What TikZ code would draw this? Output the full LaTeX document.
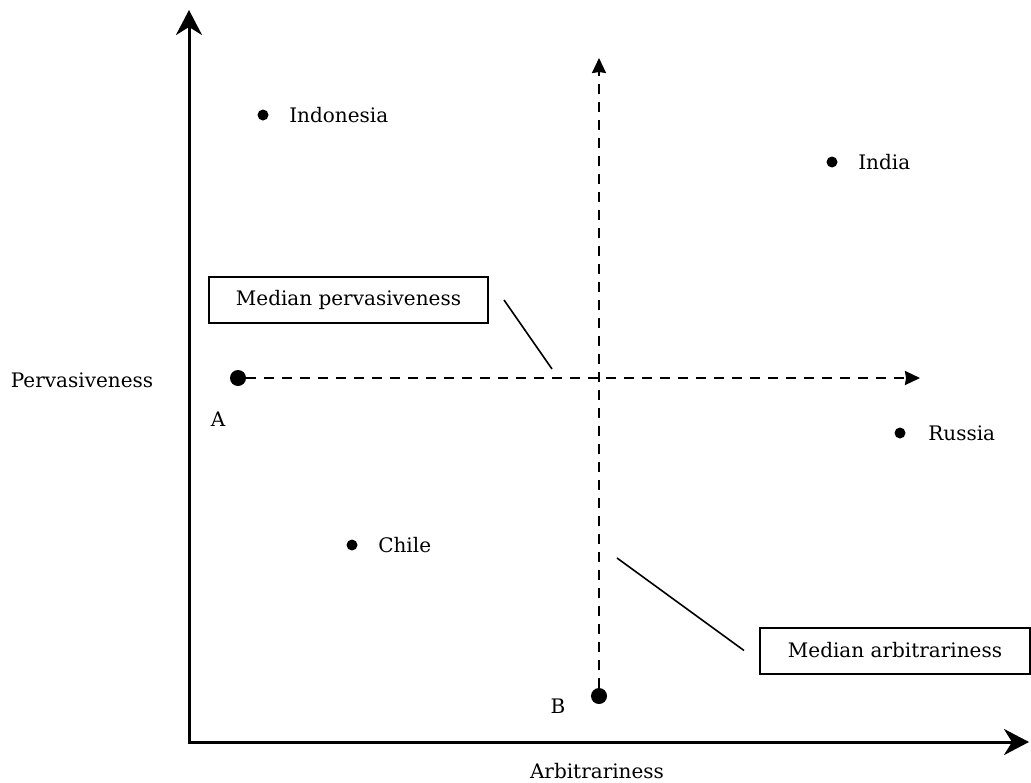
\documentclass[tikz,border=0pt]{standalone}
\usepackage{fontspec}
\setmainfont{DejaVu Serif}
\usetikzlibrary{arrows.meta,positioning}

\begin{document}
\begin{tikzpicture}[x=0.5pt,y=-0.5pt,
  font=\fontsize{10}{12}\selectfont,
  dot/.style={circle,fill=black,inner sep=0pt,minimum size=5.5pt},
  bigdot/.style={circle,fill=black,inner sep=0pt,minimum size=8pt},
  axis/.style={line width=1.5pt,
    {Stealth[length=12.5pt,width=13pt,inset=4pt]}-{Stealth[length=12.5pt,width=13pt,inset=4pt]}},
  median/.style={line width=1pt,dash pattern=on 5pt off 4pt,
    -{Stealth[length=7.5pt,width=7pt,inset=0.5pt]}},
  medbox/.style={draw,line width=1pt,inner sep=0pt,minimum height=23pt},
  leader/.style={line width=0.8pt},
  lbl/.style={inner sep=0pt}]
\useasboundingbox (0,0) rectangle (1031,782);

% axes
\coordinate (O) at (189,742);
\coordinate (ytip) at (189,10);
\coordinate (xtip) at (1029,742);
\draw[axis] (ytip) -- (O) -- (xtip);
\node[lbl] (ylbl) at (82,380) {Pervasiveness};
\node[lbl] (xlbl) at (597,771) {Arbitrariness};

% countries
\node[dot] (indonesia) at (263,115) {};
\node[dot] (india) at (832,162) {};
\node[dot] (russia) at (900,433) {};
\node[dot] (chile) at (352,545) {};
\node[lbl,right=10pt of indonesia] (indonesialbl) {Indonesia};
\node[lbl,right=10pt of india] (indialbl) {India};
\node[lbl,right=11pt of russia] (russialbl) {Russia};
\node[lbl,right=10pt of chile] (chilelbl) {Chile};

% medians
\node[bigdot] (A) at (238,378) {};
\node[bigdot] (B) at (599,696) {};
\node[lbl] (Albl) at (218,419) {A};
\node[lbl] (Blbl) at (558,706) {B};
\coordinate (medxend) at (920,378);
\coordinate (medyend) at (599,58);
\draw[median] (A) -- (medxend);
\draw[median] (B) -- (medyend);

\node[medbox,minimum width=139.5pt] (pvbox) at (348.5,300) {Median pervasiveness};
\node[medbox,minimum width=135pt] (arbox) at (895,650.5) {Median arbitrariness};
\coordinate[right=7.5pt of pvbox.east] (pvstart);
\coordinate (pvend) at (552,369);
\coordinate[left=7.5pt of arbox.west] (arstart);
\coordinate (arend) at (617,558);
\draw[leader] (pvstart) -- (pvend);
\draw[leader] (arstart) -- (arend);

\end{tikzpicture}
\end{document}
